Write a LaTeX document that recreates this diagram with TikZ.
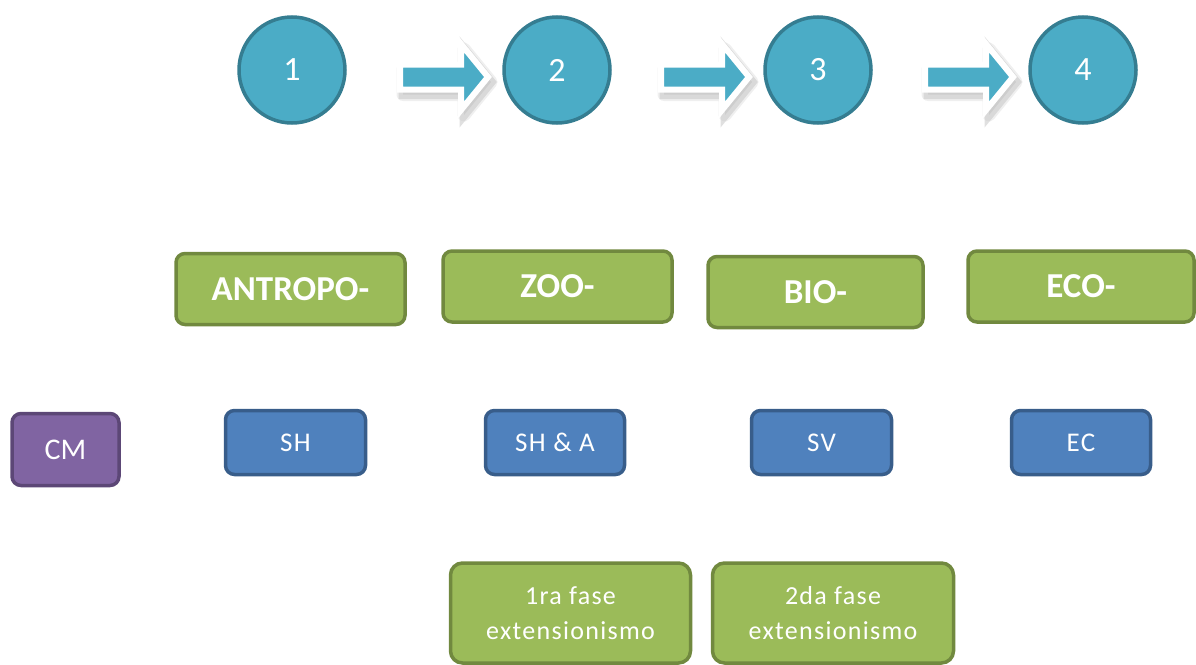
\documentclass[tikz,border=0pt]{standalone}
\usepackage{fontspec}
\setmainfont{Carlito}
\definecolor{cfill}{HTML}{4BACC6}
\definecolor{cline}{HTML}{357D91}
\definecolor{gfill}{HTML}{9BBB59}
\definecolor{gline}{HTML}{71893F}
\definecolor{bfill}{HTML}{4F81BD}
\definecolor{bline}{HTML}{385D8A}
\definecolor{pfill}{HTML}{8064A2}
\definecolor{pline}{HTML}{5C4776}
\tikzset{
  stepcircle/.style={circle, fill=cfill, draw=cline, line width=3.5pt, minimum size=106pt, inner sep=0pt,
     text=white, font=\fontsize{34}{38}\selectfont},
  greenbox/.style={rectangle, rounded corners=9pt, fill=gfill, draw=gline, line width=3.5pt, inner sep=0pt,
     text=white, font=\fontsize{35}{40}\selectfont\bfseries},
  greenlow/.style={rectangle, rounded corners=12pt, fill=gfill, draw=gline, line width=3.5pt, inner sep=0pt,
     text=white, align=center, font=\fontsize{26}{35}\selectfont\addfontfeatures{LetterSpace=5}},
  bluebox/.style={rectangle, rounded corners=9pt, fill=bfill, draw=bline, line width=3.5pt, inner sep=0pt,
     text=white, font=\fontsize{27}{30}\selectfont\addfontfeatures{LetterSpace=5}},
  purplebox/.style={rectangle, rounded corners=9pt, fill=pfill, draw=pline, line width=3.5pt, inner sep=0pt,
     text=white, font=\fontsize{30}{32}\selectfont},
  arrowshadow/.style={fill=black!22, draw=black!22, line width=9pt, line join=miter, opacity=0.55},
  arrowshadowb/.style={fill=black!12, draw=black!12, line width=13pt, line join=round, opacity=0.5},
  blockarrow/.style={fill=cfill, draw=white, line width=6pt, line join=miter},
  barrow/.pic={
    \begin{scope}[shift={(3,5)}]
      \path[arrowshadowb] (0,-12.5) -- (61,-12.5) -- (61,-33) -- (88,0) -- (61,33) -- (61,12.5) -- (0,12.5) -- cycle;
      \path[arrowshadow] (0,-12.5) -- (61,-12.5) -- (61,-33) -- (88,0) -- (61,33) -- (61,12.5) -- (0,12.5) -- cycle;
    \end{scope}
    \path[blockarrow] (0,-12.5) -- (61,-12.5) -- (61,-33) -- (88,0) -- (61,33) -- (61,12.5) -- (0,12.5) -- cycle;}
}
\begin{document}
\begin{tikzpicture}[x=1pt,y=-1pt]
\useasboundingbox (0,0) rectangle (1196,664);
% block arrows
\pic (a1) at (400,77) {barrow};
\pic (a2) at (661,77) {barrow};
\pic (a3) at (925,77) {barrow};
% circles
\node[stepcircle] (c1) at (292,70) {1};
\node[stepcircle] (c2) at (557,70) {2};
\node[stepcircle] (c3) at (818,70) {3};
\node[stepcircle] (c4) at (1083,70) {4};
% green prefix boxes
\node[greenbox, minimum width=229pt, minimum height=71pt] (antropo) at (290.5,289) {ANTROPO-};
\node[greenbox, minimum width=229pt, minimum height=71pt] (zoo) at (557.5,286.5) {ZOO-};
\node[greenbox, minimum width=215pt, minimum height=71pt] (bio) at (815.5,292) {\raisebox{-4pt}{BIO-}};
\node[greenbox, minimum width=226pt, minimum height=71pt] (eco) at (1081,286.5) {ECO-};
% purple
\node[purplebox, minimum width=107pt, minimum height=72pt] (cm) at (65.5,449.5) {CM};
% blue boxes
\node[bluebox, minimum width=140pt, minimum height=64pt] (sh) at (295.5,442.5) {SH};
\node[bluebox, minimum width=139pt, minimum height=64pt] (sha) at (555,442.5) {SH \& A};
\node[bluebox, minimum width=140pt, minimum height=64pt] (sv) at (821.5,442.5) {SV};
\node[bluebox, minimum width=139pt, minimum height=64pt] (ec) at (1081,442.5) {\raisebox{-4pt}{EC}};
% bottom green boxes
\node[greenlow, minimum width=240pt, minimum height=100pt] (f1) at (570.5,613) {1ra fase\\extensionismo};
\node[greenlow, minimum width=241pt, minimum height=100pt] (f2) at (833,613) {2da fase\\extensionismo};
\end{tikzpicture}
\end{document}
